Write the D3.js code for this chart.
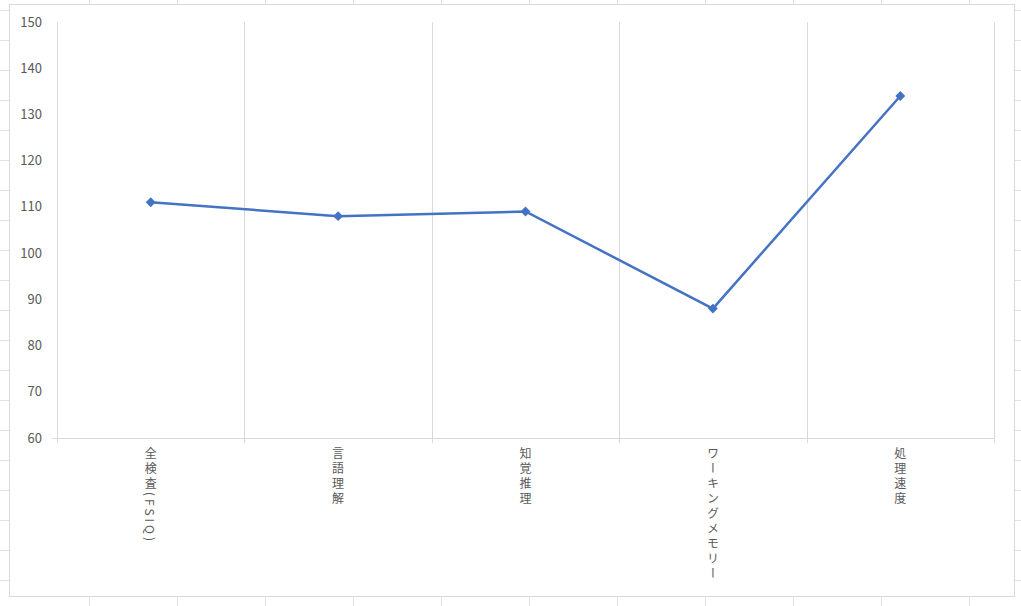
<!DOCTYPE html>
<html><head><meta charset="utf-8">
<script src="https://cdn.jsdelivr.net/npm/d3@7"></script>
<style>body{margin:0;background:#fff}</style></head>
<body><svg id="c" width="1021" height="606"></svg>
<script>
const categories = ["全検査（FSIQ）","言語理解","知覚推理","ワーキングメモリー","処理速度"];
const values = [111,108,109,88,134];
const yTicks = [60,70,80,90,100,110,120,130,140,150];

const svg = d3.select("#c");
const font = "'Noto Sans CJK JP', 'Noto Sans', sans-serif";
const bg = svg.append("g").attr("stroke","#e1e1e1").attr("stroke-width",1);
d3.range(1,12).forEach(i=>bg.append("line").attr("x1",i*88+1.5).attr("x2",i*88+1.5).attr("y1",0).attr("y2",606));
d3.range(0,21).forEach(i=>bg.append("line").attr("x1",0).attr("x2",1021).attr("y1",i*30+10.5).attr("y2",i*30+10.5));
svg.append("rect").attr("x",9.5).attr("y",4.5).attr("width",1005).attr("height",592).attr("fill","#fff").attr("stroke","#d9d9d9");

const x = d3.scaleBand().domain(categories).range([57,994]);
const y = d3.scaleLinear().domain([60,150]).range([438,22]);

const g = svg.append("g");
categories.concat([null]).forEach((c,i)=>{
  const xx = Math.round(57 + i*x.bandwidth())+0.5;
  g.append("line").attr("x1",xx).attr("x2",xx).attr("y1",22).attr("y2",443).attr("stroke","#d9d9d9");
});
g.append("line").attr("x1",52).attr("x2",994).attr("y1",438.5).attr("y2",438.5).attr("stroke","#d9d9d9");

yTicks.forEach(t=>g.append("text").attr("x",42).attr("y",y(t)+4.5).attr("text-anchor","end")
  .attr("font-family",font).attr("font-size",13).attr("fill","#595959").text(t));

categories.forEach(c=>{
  const label = c.replace("（","(").replace("）",")");
  g.append("text").attr("x",x(c)+x.bandwidth()/2).attr("y",447)
   .attr("style","writing-mode:vertical-rl;text-orientation:mixed;letter-spacing:3px")
   .attr("font-family",font).attr("font-size",12).attr("fill","#595959").text(label);
});

const line = d3.line().x((d,i)=>x(categories[i])+x.bandwidth()/2).y(d=>y(d));
g.append("path").datum(values).attr("d",line).attr("fill","none").attr("stroke","#4472c4").attr("stroke-width",2.5);
g.selectAll(".m").data(values).enter().append("rect")
 .attr("x",-3.5).attr("y",-3.5).attr("width",7).attr("height",7)
 .attr("transform",(d,i)=>`translate(${x(categories[i])+x.bandwidth()/2},${y(d)}) rotate(45)`)
 .attr("fill","#4472c4");
</script></body></html>
